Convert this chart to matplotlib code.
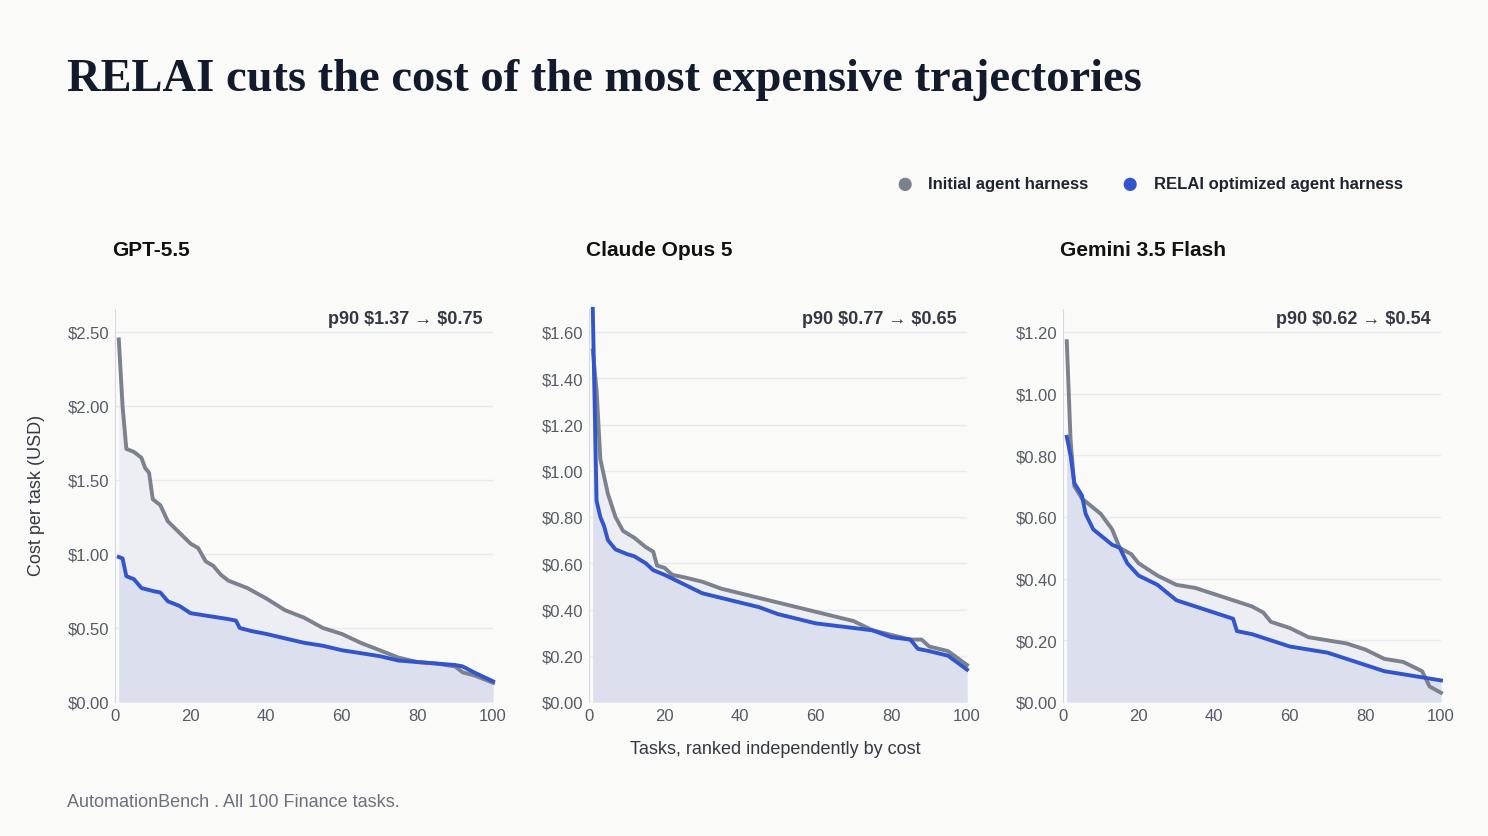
import matplotlib.pyplot as plt

# ranks and costs
gpt_x0 = [1, 2, 3, 5, 7, 8, 9, 10, 12, 14, 16, 18, 20, 22, 24, 26, 28, 30, 35, 40, 45, 50, 55, 60, 65, 70, 75, 80, 85, 90, 92, 95, 100]
gpt_init = [2.45, 2.0, 1.71, 1.69, 1.65, 1.58, 1.55, 1.37, 1.33, 1.22, 1.17, 1.12, 1.07, 1.04, 0.95, 0.92, 0.86, 0.82, 0.77, 0.70, 0.62, 0.57, 0.50, 0.46, 0.40, 0.35, 0.30, 0.27, 0.26, 0.24, 0.20, 0.18, 0.13]
gpt_x1 = [1, 2, 3, 5, 7, 10, 12, 14, 17, 20, 25, 30, 32, 33, 36, 40, 45, 50, 55, 60, 65, 70, 75, 80, 85, 90, 92, 95, 100]
gpt_relai = [0.98, 0.97, 0.85, 0.83, 0.77, 0.75, 0.74, 0.68, 0.65, 0.60, 0.58, 0.56, 0.55, 0.50, 0.48, 0.46, 0.43, 0.40, 0.38, 0.35, 0.33, 0.31, 0.28, 0.27, 0.26, 0.25, 0.24, 0.20, 0.14]

cl_x0 = [1, 2, 3, 5, 7, 9, 12, 15, 17, 18, 20, 22, 25, 30, 35, 40, 45, 50, 55, 60, 65, 70, 75, 80, 85, 88, 90, 95, 100]
cl_init = [1.52, 1.35, 1.05, 0.90, 0.80, 0.74, 0.71, 0.67, 0.65, 0.59, 0.58, 0.55, 0.54, 0.52, 0.49, 0.47, 0.45, 0.43, 0.41, 0.39, 0.37, 0.35, 0.31, 0.29, 0.27, 0.27, 0.24, 0.22, 0.16]
cl_x1 = [1, 2, 3, 4, 5, 7, 10, 12, 15, 17, 20, 25, 30, 35, 40, 45, 50, 55, 60, 65, 70, 75, 80, 85, 87, 90, 95, 100]
cl_relai = [1.70, 0.87, 0.80, 0.76, 0.70, 0.66, 0.64, 0.63, 0.60, 0.57, 0.55, 0.51, 0.47, 0.45, 0.43, 0.41, 0.38, 0.36, 0.34, 0.33, 0.32, 0.31, 0.28, 0.27, 0.23, 0.22, 0.20, 0.14]

gem_x0 = [1, 2, 3, 5, 8, 10, 13, 15, 18, 20, 25, 30, 35, 40, 45, 50, 53, 55, 60, 65, 70, 75, 80, 85, 90, 95, 97, 100]
gem_init = [1.17, 0.85, 0.70, 0.66, 0.63, 0.61, 0.56, 0.50, 0.48, 0.45, 0.41, 0.38, 0.37, 0.35, 0.33, 0.31, 0.29, 0.26, 0.24, 0.21, 0.20, 0.19, 0.17, 0.14, 0.13, 0.10, 0.05, 0.03]
gem_x1 = [1, 2, 3, 5, 6, 8, 10, 13, 15, 17, 20, 25, 30, 35, 40, 45, 46, 50, 55, 60, 65, 70, 75, 80, 85, 90, 95, 100]
gem_relai = [0.86, 0.80, 0.71, 0.67, 0.61, 0.56, 0.54, 0.51, 0.50, 0.45, 0.41, 0.38, 0.33, 0.31, 0.29, 0.27, 0.23, 0.22, 0.20, 0.18, 0.17, 0.16, 0.14, 0.12, 0.10, 0.09, 0.08, 0.07]

titles = ['GPT-5.5', 'Claude Opus 5', 'Gemini 3.5 Flash']
p90 = ['p90 \\$1.37 \u2192 \\$0.75', 'p90 \\$0.77 \u2192 \\$0.65', 'p90 \\$0.62 \u2192 \\$0.54']
yticks = [[0, 0.5, 1.0, 1.5, 2.0, 2.5],
          [0, 0.2, 0.4, 0.6, 0.8, 1.0, 1.2, 1.4, 1.6],
          [0, 0.2, 0.4, 0.6, 0.8, 1.0, 1.2]]
series = [(gpt_x0, gpt_init, gpt_x1, gpt_relai),
          (cl_x0, cl_init, cl_x1, cl_relai),
          (gem_x0, gem_init, gem_x1, gem_relai)]

BG = '#fafaf9'
GREY = '#7b818d'
BLUE = '#3355cc'

plt.rcParams['font.family'] = ['Liberation Sans', 'DejaVu Sans']
fig = plt.figure(figsize=(14.88, 8.37), dpi=100, facecolor=BG)
W, H = 1488, 837

lefts = [115, 589, 1063]
for i in range(3):
    x0, y0, x1, y1 = series[i]
    top = yticks[i][-1]
    ax = fig.add_axes([lefts[i] / W, 1 - 703 / H, 378 / W, 393 / H], facecolor=BG)
    ax.fill_between(x0, y0, color='#eceef3', lw=0)
    ax.fill_between(x1, y1, color='#dce0ee', lw=0)
    ax.plot(x0, y0, color=GREY, lw=2.8, solid_joinstyle='round', clip_on=False)
    ax.plot(x1, y1, color=BLUE, lw=2.8, solid_joinstyle='round', clip_on=False)
    ax.set_xlim(0, 100)
    ax.set_ylim(0, top * 393 / 370)
    ax.set_yticks(yticks[i])
    ax.set_yticklabels(['$%.2f' % v for v in yticks[i]])
    ax.set_xticks([0, 20, 40, 60, 80, 100])
    ax.grid(axis='y', color='#e8eaf0', lw=1)
    ax.set_axisbelow(True)
    for s in ['top', 'right', 'bottom']:
        ax.spines[s].set_visible(False)
    ax.spines['left'].set_color('#d5d9e4')
    ax.tick_params(length=0, labelsize=12, colors='#555a66', pad=4)
    fig.text((lefts[i] + 368) / W, 1 - 320 / H, p90[i], ha='right', va='center',
             fontsize=13, fontweight='bold', color='#333844')
    fig.text((lefts[i] - 3) / W, 1 - 250 / H, titles[i], fontsize=15, fontweight='bold',
             color='#111111', va='center')

fig.text(67 / W, 1 - 80 / H, 'RELAI cuts the cost of the most expensive trajectories',
         family=['Liberation Serif', 'DejaVu Serif'], fontsize=33.5, fontweight='bold',
         color='#121a2c', va='center')
fig.text(37 / W, 1 - 495 / H, 'Cost per task (USD)', rotation=90, fontsize=13,
         color='#333844', ha='center', va='center')
fig.text(775 / W, 1 - 750 / H, 'Tasks, ranked independently by cost', fontsize=13,
         color='#333844', ha='center', va='center')
fig.text(67 / W, 1 - 803 / H, 'AutomationBench . All 100 Finance tasks.', fontsize=13,
         color='#6b707c', va='center')

# legend
fig.text(905 / W, 1 - 185 / H, '\u25cf', color=GREY, fontsize=22, ha='center', va='center')
fig.text(928 / W, 1 - 185 / H, 'Initial agent harness', fontsize=12, fontweight='bold',
         color='#1f2430', va='center')
fig.text(1130 / W, 1 - 185 / H, '\u25cf', color=BLUE, fontsize=22, ha='center', va='center')
fig.text(1154 / W, 1 - 185 / H, 'RELAI optimized agent harness', fontsize=12,
         fontweight='bold', color='#1f2430', va='center')

fig.savefig('out.png', dpi=100, facecolor=BG)
